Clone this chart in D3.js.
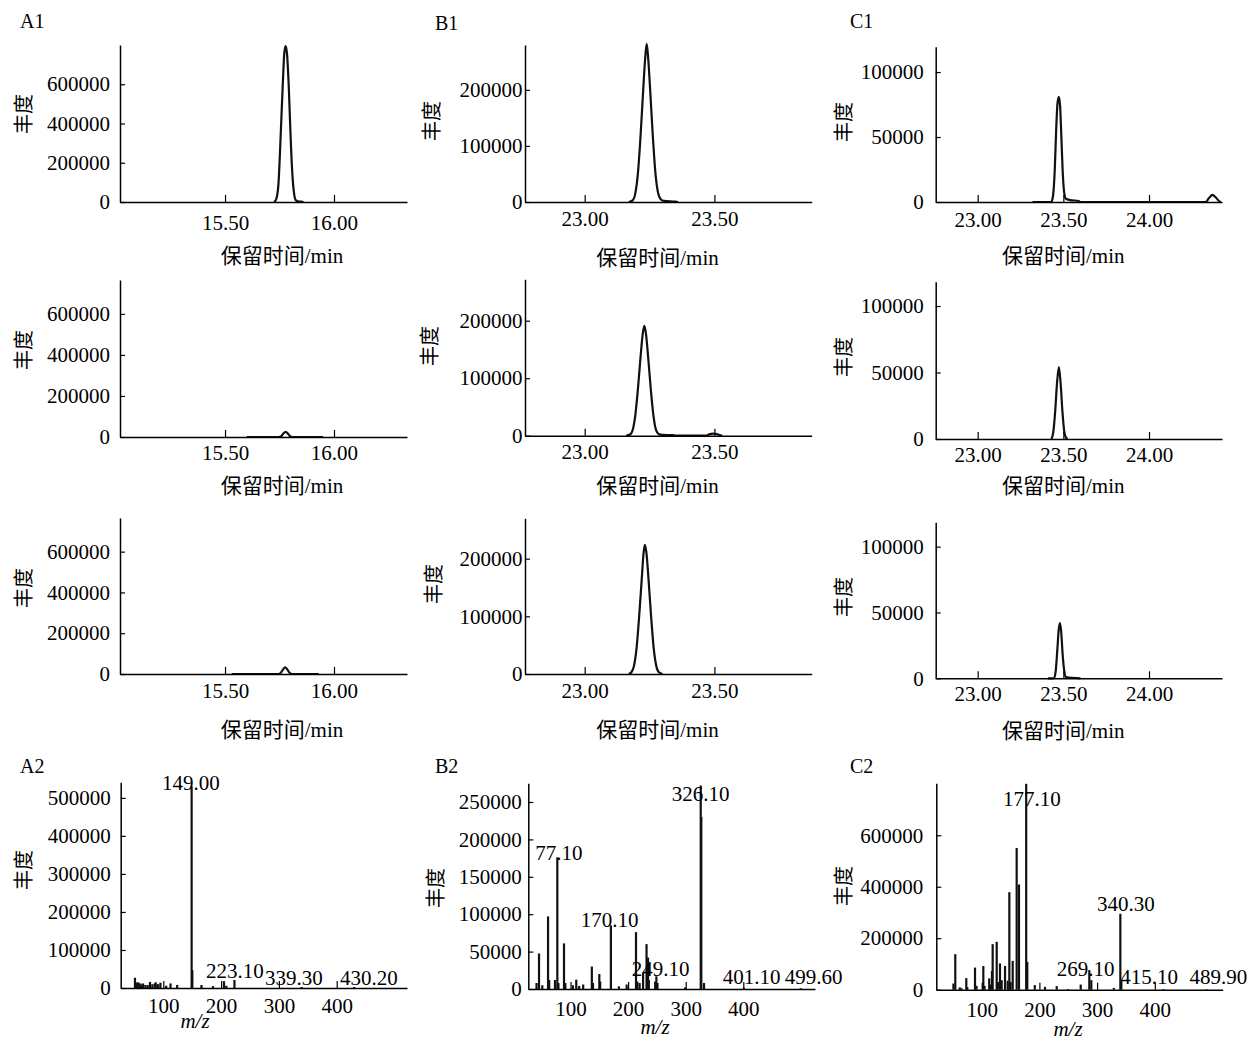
<!DOCTYPE html>
<html>
<head>
<meta charset="utf-8">
<script src="https://cdn.jsdelivr.net/npm/d3@7"></script>
<style>body{margin:0;background:#fff}</style>
</head>
<body>
<div id="chart"></div>
<script>
// tick values
var aTimeTicks = [15.50, 16.00];
var bTimeTicks = [23.00, 23.50];
var cTimeTicks = [23.00, 23.50, 24.00];
var aAbundTicks = [0, 200000, 400000, 600000];
var bAbundTicks = [0, 100000, 200000];
var cAbundTicks = [0, 50000, 100000];
var mzTicks = [100, 200, 300, 400];
var a2AbundTicks = [0, 100000, 200000, 300000, 400000, 500000];
var b2AbundTicks = [0, 50000, 100000, 150000, 200000, 250000];
var c2AbundTicks = [0, 200000, 400000, 600000];

// chromatogram traces  [time/min, abundance]
var a1Trace = [[15.725,0],[15.735,15000],[15.745,90000],[15.755,330000],[15.765,600000],[15.772,760000],[15.778,795000],[15.784,760000],[15.792,600000],[15.800,360000],[15.808,160000],[15.816,50000],[15.824,10000],[15.835,3000],[15.850,2000],[15.860,0]];
var a2Trace = [[15.60,0],[15.745,0],[15.758,4000],[15.768,17000],[15.778,25000],[15.788,17000],[15.798,4000],[15.81,0],[15.95,0]];
var a3Trace = [[15.53,0],[15.745,0],[15.756,6000],[15.766,22000],[15.776,33000],[15.786,22000],[15.796,6000],[15.808,0],[15.93,0]];
var b1Trace = [[23.17,0],[23.185,3000],[23.195,15000],[23.205,50000],[23.215,115000],[23.225,195000],[23.233,255000],[23.239,282000],[23.245,255000],[23.253,195000],[23.263,115000],[23.273,50000],[23.283,16000],[23.293,5000],[23.305,2000],[23.33,1000],[23.35,800],[23.36,0]];
var b2Trace = [[23.16,0],[23.175,2000],[23.185,10000],[23.195,35000],[23.205,80000],[23.215,135000],[23.224,178000],[23.23,191000],[23.236,178000],[23.245,135000],[23.255,80000],[23.265,35000],[23.275,10000],[23.285,3000],[23.30,1500],[23.34,1000],[23.35,0],[23.47,0],[23.48,2500],[23.495,3500],[23.51,3000],[23.52,1000],[23.53,0]];
var b3Trace = [[23.17,0],[23.18,3000],[23.19,14000],[23.20,45000],[23.21,100000],[23.22,165000],[23.227,210000],[23.232,224000],[23.238,210000],[23.246,165000],[23.256,100000],[23.266,45000],[23.276,14000],[23.286,3000],[23.30,0]];
var c1Trace = [[23.32,0],[23.43,0],[23.44,5000],[23.45,25000],[23.458,55000],[23.466,76000],[23.474,81000],[23.481,74000],[23.488,52000],[23.496,24000],[23.505,7000],[23.515,2500],[23.54,1500],[23.59,800],[23.60,0],[24.33,0],[24.35,3000],[24.37,5500],[24.39,3500],[24.41,500],[24.42,0]];
var c2Trace = [[23.43,0],[23.44,4000],[23.452,20000],[23.463,42000],[23.474,54000],[23.484,42000],[23.495,20000],[23.506,5000],[23.516,1000],[23.525,0]];
var c3Trace = [[23.41,0],[23.445,0],[23.455,5000],[23.465,22000],[23.473,37000],[23.48,42000],[23.487,36000],[23.496,18000],[23.506,5000],[23.516,1000],[23.60,0]];

// mass spectra  [m/z, abundance]
var a2Spec = [[51,27000],[53,12000],[55,15000],[57,14000],[60,12000],[63,9000],[65,12000],[69,8000],[73,8000],[77,16000],[81,10000],[85,12000],[87,15000],[91,10000],[95,14000],[105,6000],[112.5,12000],[124,8000],[149,530000],[150.2,47000],[166,8000],[186,5000],[205,18000],[209,6000],[223.1,21000],[339.3,2500],[430.2,2500]];
var b2Spec = [[41,8000],[45.3,47500],[51,5000],[61,97000],[63,12000],[73,12000],[77.1,176000],[79,8000],[88.7,61000],[91,8000],[104,5000],[110,12500],[115,4000],[122,6000],[137,30000],[139,8000],[150,20000],[151.5,10000],[170.1,85000],[184,3500],[197.5,6000],[213.7,76000],[216,10000],[220,8000],[226,22000],[232,60000],[234.6,42000],[236,12000],[247,10000],[249.1,17000],[251,8000],[299,2000],[326.1,272000],[327.1,230000],[331.8,8000],[401.1,1500],[499.6,1000]];
var c2Spec = [[51,24000],[54.2,138000],[61.9,9000],[65,6000],[73.3,45000],[75,10000],[88.4,86000],[91,15000],[102.8,92000],[105,15000],[113,44000],[115,20000],[117.8,73000],[119,177000],[126,186000],[128,30000],[131.7,102000],[134.6,37000],[140.4,92000],[145,35000],[147.9,379000],[150,30000],[153.7,112000],[160.6,551000],[164.6,409000],[177.1,800000],[179,108000],[192,18000],[209.7,11000],[230,14000],[250,3000],[271.6,20000],[286.5,76000],[290,37000],[329,7000],[340.3,295000],[342,37000],[415.1,3000],[489.9,2000]];

// peak labels  [text, label m/z, label abundance]
var a2Labels = [['149.00',147.9,521000],['223.10',224,26000],['339.30',326,8000],['430.20',455.6,8000]];
var b2Labels = [['326.10',325.7,252000],['77.10',80,172000],['170.10',168,83000],['249.10',256.6,17500],['401.10',414.6,6700],['499.60',522,6700]];
var c2Labels = [['177.10',187,714000],['340.30',350,304000],['269.10',280,53000],['415.10',390,22000],['489.90',510,22000]];

var FONT = '"Liberation Serif","Times New Roman","Noto Sans CJK SC",serif';
var CJK = '"Noto Sans CJK SC",sans-serif';
var FS = 21;

var aDom = [15.018, 16.335], bDom = [22.770, 23.875], cDom = [22.755, 24.426];
var fmt2 = function (d) { return d.toFixed(2); };

var panels = [
    {kind:'chrom', data:a1Trace, xDom:aDom, yDom:[0,800000], xT:aTimeTicks, yT:aAbundTicks, l:120, r:407, t:45, b:202, yGap:10, xTB:28, xLD:61, xLX:282, yl:[22,114], title:['A1',20,28]},
    {kind:'chrom', data:a2Trace, xDom:aDom, yDom:[0,765000], xT:aTimeTicks, yT:aAbundTicks, l:120, r:407, t:280, b:437, yGap:10, xTB:23.3, xLD:56, xLX:282, yl:[22,350]},
    {kind:'chrom', data:a3Trace, xDom:aDom, yDom:[0,765000], xT:aTimeTicks, yT:aAbundTicks, l:120, r:407, t:518, b:674, yGap:10, xTB:23.7, xLD:62.7, xLX:282, yl:[22,588]},
    {kind:'chrom', data:b1Trace, xDom:bDom, yDom:[0,280000], xT:bTimeTicks, yT:bAbundTicks, l:525, r:811.7, t:45, b:202, yGap:2.5, xTB:24, xLD:63, xLX:657.5, yl:[430,121], title:['B1',435,30]},
    {kind:'chrom', data:b2Trace, xDom:bDom, yDom:[0,272000], xT:bTimeTicks, yT:bAbundTicks, l:525, r:811.7, t:279.3, b:435.7, yGap:2.5, xTB:23.3, xLD:57, xLX:657.5, yl:[428,346]},
    {kind:'chrom', data:b3Trace, xDom:bDom, yDom:[0,270000], xT:bTimeTicks, yT:bAbundTicks, l:525, r:811.7, t:518.3, b:674, yGap:2.5, xTB:23.7, xLD:62.7, xLX:657.5, yl:[432,584]},
    {kind:'chrom', data:c1Trace, xDom:cDom, yDom:[0,119500], xT:cTimeTicks, yT:cAbundTicks, l:935.7, r:1222, t:46.7, b:202, yGap:12, xTB:24.7, xLD:61.3, xLX:1063.3, yl:[842,122], title:['C1',850,28]},
    {kind:'chrom', data:c2Trace, xDom:cDom, yDom:[0,118300], xT:cTimeTicks, yT:cAbundTicks, l:935.7, r:1222, t:281.7, b:439, yGap:12, xTB:22.7, xLD:53.7, xLX:1063.3, yl:[842,357]},
    {kind:'chrom', data:c3Trace, xDom:cDom, yDom:[0,118500], xT:cTimeTicks, yT:cAbundTicks, l:935.7, r:1222, t:522.3, b:678.3, yGap:12, xTB:22.7, xLD:60, xLX:1063.3, yl:[842,597]},
    {kind:'spec', data:a2Spec, labels:a2Labels, xDom:[26.3,521.6], yDom:[0,541000], xT:mzTicks, yT:a2AbundTicks, l:120.7, r:407, t:782.3, b:988, yGap:10, xTB:25, xLD:40, xLX:195, yl:[22,870], title:['A2',20,773]},
    {kind:'spec', data:b2Spec, labels:b2Labels, xDom:[26.7,524.5], yDom:[0,275000], xT:mzTicks, yT:b2AbundTicks, l:528.3, r:815, t:783.3, b:989, yGap:6.6, xTB:27, xLD:45, xLX:655, yl:[434,888], title:['B2',435,773]},
    {kind:'spec', data:c2Spec, labels:c2Labels, xDom:[21.3,517.7], yDom:[0,802000], xT:mzTicks, yT:c2AbundTicks, l:936.3, r:1222.7, t:783.3, b:989.7, yGap:13, xTB:27, xLD:46, xLX:1068, yl:[842,886], title:['C2',850,773]}
];

var svg = d3.select('#chart').append('svg')
    .attr('width', 1250)
    .attr('height', 1040);

panels.forEach(function (p) {
    var x = d3.scaleLinear().domain(p.xDom).range([p.l, p.r]);
    var y = d3.scaleLinear().domain(p.yDom).range([p.b, p.t]);
    var g = svg.append('g');

    var xAxis = d3.axisBottom(x)
        .tickValues(p.xT)
        .tickSizeInner(-7)
        .tickSizeOuter(0)
        .tickPadding(p.xTB - 0.71 * FS)
        .tickFormat(p.kind == 'chrom' ? fmt2 : d3.format('d'));
    var yAxis = d3.axisLeft(y)
        .tickValues(p.yT)
        .tickSizeInner(-5)
        .tickSizeOuter(0)
        .tickPadding(p.yGap)
        .tickFormat(d3.format('d'));

    // data first so the axis line sits on top of the baseline
    if (p.kind == 'chrom') {
        var line = d3.line()
            .x(function (d) { return x(d[0]); })
            .y(function (d) { return y(d[1]); })
            .curve(d3.curveMonotoneX);
        g.append('path')
            .attr('fill', 'none')
            .attr('stroke', '#111')
            .attr('stroke-width', 2.2)
            .attr('stroke-linejoin', 'round')
            .attr('d', line(p.data));
    } else {
        g.selectAll('line.bar')
            .data(p.data)
            .join('line')
            .attr('class', 'bar')
            .attr('x1', function (d) { return x(d[0]); })
            .attr('x2', function (d) { return x(d[0]); })
            .attr('y1', y(0))
            .attr('y2', function (d) { return y(d[1]); })
            .attr('stroke', '#111')
            .attr('stroke-width', 2.2);
        g.selectAll('text.peak')
            .data(p.labels)
            .join('text')
            .attr('class', 'peak')
            .attr('x', function (d) { return x(d[1]); })
            .attr('y', function (d) { return y(d[2]); })
            .attr('text-anchor', 'middle')
            .attr('font-family', FONT)
            .attr('font-size', FS)
            .text(function (d) { return d[0]; });
    }

    g.append('g').attr('transform', 'translate(0,' + p.b + ')').call(xAxis);
    g.append('g').attr('transform', 'translate(' + p.l + ',0)').call(yAxis);

    g.selectAll('.domain').attr('stroke', '#000').attr('stroke-width', 1.5);
    g.selectAll('.tick line').attr('stroke', '#000').attr('stroke-width', 1.2);
    g.selectAll('.tick text')
        .attr('font-family', FONT)
        .attr('font-size', FS)
        .attr('fill', '#000');

    // y label
    g.append('text')
        .attr('transform', 'translate(' + p.yl[0] + ',' + p.yl[1] + ') rotate(-90)')
        .attr('text-anchor', 'middle')
        .attr('dominant-baseline', 'central')
        .attr('font-family', CJK)
        .attr('font-size', 20)
        .text('丰度');

    // x label
    var xl = g.append('text')
        .attr('x', p.xLX)
        .attr('y', p.b + p.xLD)
        .attr('text-anchor', 'middle')
        .attr('font-family', FONT)
        .attr('font-size', FS);
    if (p.kind == 'chrom') xl.text('保留时间/min');
    else xl.attr('font-style', 'italic').text('m/z');

    if (p.title) {
        g.append('text')
            .attr('x', p.title[1])
            .attr('y', p.title[2])
            .attr('font-family', FONT)
            .attr('font-size', 20)
            .text(p.title[0]);
    }
});
</script>
</body>
</html>
